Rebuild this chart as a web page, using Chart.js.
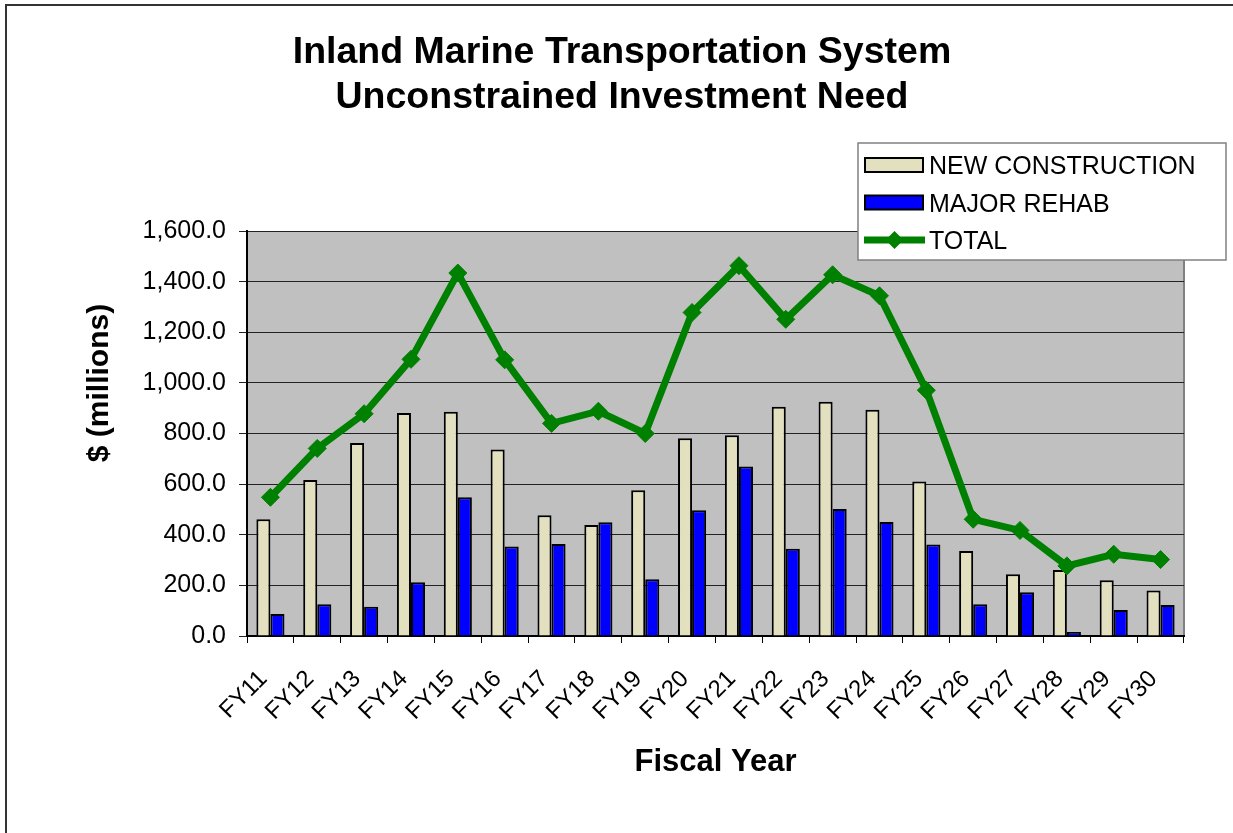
<!DOCTYPE html>
<html>
<head>
<meta charset="utf-8">
<script src="https://cdn.jsdelivr.net/npm/chart.js@4"></script>
<style>
  html, body { margin: 0; padding: 0; background: #fff; }
  #wrap { width: 1233px; height: 833px; }
</style>
</head>
<body>
<div id="wrap"><canvas id="chart" width="1233" height="833"></canvas></div>
<script>
// --- data ---
const years = ['FY11', 'FY12', 'FY13', 'FY14', 'FY15', 'FY16', 'FY17', 'FY18', 'FY19', 'FY20',
               'FY21', 'FY22', 'FY23', 'FY24', 'FY25', 'FY26', 'FY27', 'FY28', 'FY29', 'FY30'];
const newConstruction = [461, 616, 762, 881, 886, 737, 477, 439, 576, 781,
                         793, 906, 925, 894, 610, 336, 244, 261, 220, 180];
const majorRehab = [87, 125, 116, 212, 548, 354, 363, 449, 224, 497,
                    670, 345, 502, 450, 361, 125, 173, 16, 103, 122];
const total = [548, 741, 878, 1093, 1434, 1091, 840, 888, 800, 1278,
               1463, 1251, 1427, 1344, 971, 461, 417, 277, 323, 302];
const yMin = 0, yMax = 1600, yStep = 200;

const FONT = '"Liberation Sans", Arial, sans-serif';

// white page, outer frame, grey plot area
const frame = {
    id: 'frame',
    beforeDraw(chart) {
        const { ctx, chartArea: a } = chart;
        ctx.save();
        ctx.fillStyle = '#fff';
        ctx.fillRect(0, 0, chart.width, chart.height);
        ctx.strokeStyle = '#333';
        ctx.lineWidth = 2;
        ctx.beginPath();
        ctx.moveTo(6, chart.height);
        ctx.lineTo(6, 5);
        ctx.lineTo(chart.width, 5);
        ctx.stroke();
        ctx.fillStyle = '#C0C0C0';
        ctx.fillRect(a.left, a.top, a.right - a.left, a.bottom - a.top);
        ctx.strokeStyle = '#808080';
        ctx.beginPath();
        ctx.moveTo(a.right, a.top);
        ctx.lineTo(a.right, a.bottom);
        ctx.stroke();
        ctx.restore();
    }
};

// y title sits above the plot centre in the original, so draw it by hand
const yTitle = {
    id: 'yTitle',
    afterDraw(chart) {
        const ctx = chart.ctx;
        ctx.save();
        ctx.translate(100, 383);
        ctx.rotate(-Math.PI / 2);
        ctx.font = 'bold 30px ' + FONT;
        ctx.fillStyle = '#000';
        ctx.textAlign = 'center';
        ctx.textBaseline = 'middle';
        ctx.fillText('$ (millions)', 0, 0);
        ctx.restore();
    }
};

// boxed legend overlapping the top right of the plot
const boxLegend = {
    id: 'boxLegend',
    afterDraw(chart) {
        const ctx = chart.ctx;
        const x = 858, y = 143, w = 368, h = 117;
        ctx.save();
        ctx.fillStyle = '#fff';
        ctx.fillRect(x, y, w, h);
        ctx.strokeStyle = '#808080';
        ctx.lineWidth = 1.5;
        ctx.strokeRect(x, y, w, h);
        ctx.font = '25px ' + FONT;
        chart.data.datasets.forEach((ds, i) => {
            const cy = 165 + i * 37.5;
            if (ds.type === 'line') {
                ctx.strokeStyle = ds.borderColor;
                ctx.lineWidth = 7;
                ctx.beginPath();
                ctx.moveTo(864, cy);
                ctx.lineTo(925, cy);
                ctx.stroke();
                ctx.fillStyle = ds.borderColor;
                ctx.beginPath();
                ctx.moveTo(894.5 - 9, cy);
                ctx.lineTo(894.5, cy - 9);
                ctx.lineTo(894.5 + 9, cy);
                ctx.lineTo(894.5, cy + 9);
                ctx.closePath();
                ctx.fill();
            } else {
                ctx.fillStyle = ds.backgroundColor;
                ctx.fillRect(865, cy - 7, 58, 14);
                ctx.strokeStyle = '#000';
                ctx.lineWidth = 2;
                ctx.strokeRect(865, cy - 7, 58, 14);
            }
            ctx.fillStyle = '#000';
            ctx.textBaseline = 'alphabetic';
            ctx.fillText(ds.label, 929, cy + 9);
        });
        ctx.restore();
    }
};

new Chart(document.getElementById('chart'), {
    data: {
        labels: years,
        datasets: [
            {
                type: 'bar',
                label: 'NEW CONSTRUCTION',
                data: newConstruction,
                backgroundColor: '#E2E0BF',
                borderColor: '#000',
                borderWidth: 2,
                categoryPercentage: 0.6,
                barPercentage: 1.0,
                order: 1
            },
            {
                type: 'bar',
                label: 'MAJOR REHAB',
                data: majorRehab,
                backgroundColor: '#0000FF',
                borderColor: '#000',
                borderWidth: 2,
                categoryPercentage: 0.6,
                barPercentage: 1.0,
                order: 1
            },
            {
                type: 'line',
                label: 'TOTAL',
                data: total,
                borderColor: '#008000',
                backgroundColor: '#008000',
                borderWidth: 7,
                pointStyle: 'rectRot',
                pointRadius: 9,
                pointBackgroundColor: '#008000',
                pointBorderColor: '#008000',
                pointBorderWidth: 1,
                tension: 0,
                order: 0
            }
        ]
    },
    options: {
        responsive: false,
        animation: false,
        layout: { padding: { left: 60, right: 49, top: 0, bottom: 0 } },
        plugins: {
            legend: { display: false },
            tooltip: { enabled: false },
            title: {
                display: true,
                text: ['Inland Marine Transportation System', 'Unconstrained Investment Need'],
                color: '#000',
                font: { family: FONT, size: 37.5, weight: 'bold', lineHeight: 1.2 },
                padding: { top: 30, bottom: 111 }
            }
        },
        scales: {
            x: {
                offset: true,
                grid: { offset: true, drawOnChartArea: false, drawTicks: true, tickLength: 7, color: '#000', lineWidth: 1 },
                border: { display: true, color: '#000', width: 2 },
                ticks: {
                    autoSkip: false, minRotation: 45, maxRotation: 45,
                    color: '#000', padding: 22, labelOffset: -7,
                    font: { family: FONT, size: 24 }
                },
                title: {
                    display: true, text: 'Fiscal Year', color: '#000',
                    font: { family: FONT, size: 31, weight: 'bold', lineHeight: 1.2 },
                    padding: { top: 0, bottom: 52 }
                },
                afterFit(s) { s.height = 197; }
            },
            y: {
                min: yMin, max: yMax,
                grid: { color: '#222', lineWidth: 1, tickLength: 8 },
                border: { display: true, color: '#000', width: 2 },
                ticks: {
                    stepSize: yStep, color: '#000', padding: 13,
                    font: { family: FONT, size: 25 },
                    callback: v => v.toLocaleString('en-US', { minimumFractionDigits: 1, maximumFractionDigits: 1 })
                },
                afterFit(s) { s.width = 187; }
            }
        }
    },
    plugins: [frame, yTitle, boxLegend]
});
</script>
</body>
</html>
